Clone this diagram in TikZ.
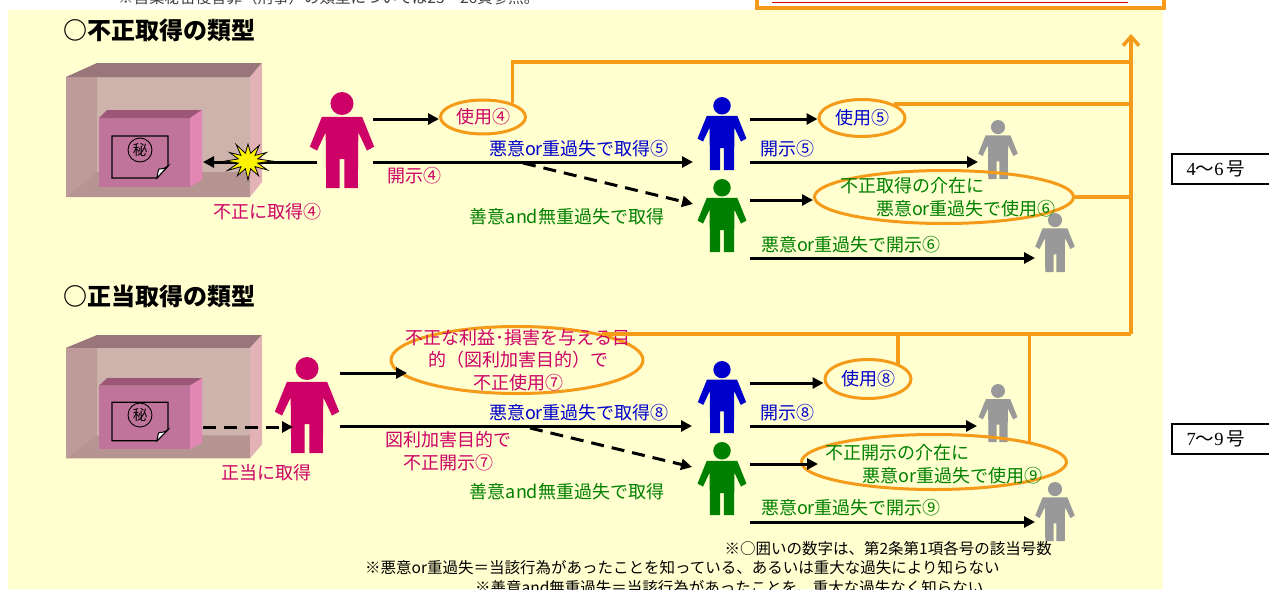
\documentclass[tikz,border=0pt]{standalone}
\usepackage{fontspec}
\setmainfont{Noto Sans CJK JP}
\newfontfamily\numserif{Liberation Serif}
\usetikzlibrary{shapes.geometric,arrows.meta}

\definecolor{bgyellow}{RGB}{255,255,208}
\definecolor{mag}{HTML}{CC0066}
\definecolor{blu}{HTML}{0000CC}
\definecolor{grn}{HTML}{008000}
\definecolor{gry}{HTML}{999999}
\definecolor{org}{RGB}{245,155,25}
\definecolor{boxtop}{RGB}{152,118,122}
\definecolor{boxback}{RGB}{206,178,172}
\definecolor{boxwall}{RGB}{190,155,152}
\definecolor{boxfloor}{RGB}{182,148,146}
\definecolor{boxside}{RGB}{226,178,182}
\definecolor{innerfront}{RGB}{192,116,156}
\definecolor{innertop}{RGB}{158,86,120}
\definecolor{innerside}{RGB}{226,134,180}

\newcommand\labfont{\fontsize{18}{22.5}\selectfont}
\newcommand\notefont{\fontsize{15.5}{19}\selectfont}
\newcommand\titlefont{\fontsize{24}{28}\selectfont\bfseries}

% standing figure: x centre, feet y, height, colour
\newcommand\drawperson[4]{%
  \begin{scope}[shift={(#1,#2)}, x=#3pt, y=#3pt]
    \fill[#4] (0,0.88) circle (0.12);
    \fill[#4] (-0.21,0.74) -- (0.21,0.74) -- (0.335,0.43) -- (0.26,0.39)
      -- (0.17,0.58) -- (0.165,0) -- (0.025,0) -- (0.025,0.30)
      -- (-0.025,0.30) -- (-0.025,0) -- (-0.165,0) -- (-0.17,0.58)
      -- (-0.26,0.39) -- (-0.335,0.43) -- cycle;
  \end{scope}}

% open case holding the secret box: top y, vertical scale, name of the seal
\newcommand\drawsafe[3]{%
  \begin{scope}[shift={(0,#1)}, yscale=#2]
    \fill[boxback] (66,14) rectangle (250,134);
    \fill[boxwall] (66,14) -- (97,14) -- (97,109) -- (66,134) -- cycle;
    \fill[boxfloor] (66,134) -- (97,109) -- (250,109) -- (250,134) -- cycle;
    \fill[boxtop] (66,14) -- (97,0) -- (262,0) -- (250,14) -- cycle;
    \fill[boxside] (250,14) -- (262,0) -- (262,119) -- (250,134) -- cycle;
    \fill[innerfront] (99,55) rectangle (190,124);
    \fill[innertop] (99,55) -- (107,47) -- (202,47) -- (190,55) -- cycle;
    \fill[innerside] (190,55) -- (202,47) -- (202,117) -- (190,124) -- cycle;
    \draw[line width=1.2pt, fill=innerfront] (112,73) -- (168,73) -- (168,103)
      -- (157,115) -- (112,115) -- cycle;
    \filldraw[line width=1pt, fill=white] (157,115) .. controls (158,108) .. (159,106)
      .. controls (163,106) .. (168,103) -- cycle;
    \node[circle, draw, line width=0.9pt, inner sep=0pt, minimum size=24pt,
      font=\fontsize{14.5}{14.5}\selectfont] (#3) at (140,87) {秘};
  \end{scope}}

\begin{document}
\begin{tikzpicture}[x=1pt, y=-1pt,
  arrowline/.style={line width=3pt, -{Triangle[length=11pt,width=11pt]}},
  dashline/.style={arrowline, dash pattern=on 13pt off 8pt},
  oval/.style={ellipse, draw=org, line width=3pt, inner sep=0pt},
  busline/.style={draw=org, line width=3.5pt},
  lab/.style={font=\labfont, inner sep=0pt},
  note/.style={font=\notefont, inner sep=0pt}]

\useasboundingbox (0,0) rectangle (1269,589);
\fill[white] (0,0) rectangle (1269,589);
\fill[bgyellow] (8,10) rectangle (1163,589);

% header strip
\node[note, text=black!75, anchor=west] (refnote) at (118,-2)
  {※営業秘密侵害罪（刑事）の類型については25～26頁参照。};
\draw[org, line width=3.5pt, fill=white] (757,-30) rectangle (1164,8);
\draw[red!85!black, line width=1pt] (772,2.5) -- (1128,2.5);

% section titles
\node[font=\titlefont, anchor=west, inner sep=0pt] (title1) at (63,30) {○不正取得の類型};
\node[font=\titlefont, anchor=west, inner sep=0pt] (title2) at (63,296) {○正当取得の類型};

% cases
\drawsafe{63}{1}{seal1}
\drawsafe{335}{0.92}{seal2}

% figures
\drawperson{342}{188}{96}{mag}
\drawperson{722}{170}{73}{blu}
\drawperson{722}{252}{73}{grn}
\drawperson{998}{179}{59}{gry}
\drawperson{1055}{272}{59}{gry}
\drawperson{307}{453}{96}{mag}
\drawperson{722}{433}{72}{blu}
\drawperson{722}{515}{73}{grn}
\drawperson{998}{442}{58}{gry}
\drawperson{1055}{541}{59}{gry}

% ovals
\node[oval, minimum width=85pt, minimum height=34pt] (u4) at (483,117) {};
\node[oval, minimum width=86pt, minimum height=37pt] (u5) at (862,118) {};
\node[oval, minimum width=259pt, minimum height=53pt] (u6) at (944,197) {};
\node[oval, minimum width=252pt, minimum height=67pt] (u7) at (517,360) {};
\node[oval, minimum width=86pt, minimum height=39pt] (u8) at (868,379) {};
\node[oval, minimum width=265pt, minimum height=55pt] (u9) at (934,462) {};

\node[lab, text=mag] (u4t) at (u4) {使用④};
\node[lab, text=blu] (u5t) at (u5) {使用⑤};
\node[lab, text=grn, align=left] (u6t) at (948,197) {不正取得の介在に\\\hspace*{2em}悪意or重過失で使用⑥};
\node[lab, text=mag, align=center] (u7t) at (518,360) {不正な利益･損害を与える目\\的（図利加害目的）で\\不正使用⑦};
\node[lab, text=blu] (u8t) at (u8) {使用⑧};
\node[lab, text=grn, align=left] (u9t) at (934,464) {不正開示の介在に\\\hspace*{2.1em}悪意or重過失で使用⑨};

% arrow end points at the figures and cases
\coordinate (m1a) at (373,119);
\coordinate (m1b) at (373,162);
\coordinate (m1c) at (317,162);
\coordinate (case1in) at (203,162);
\coordinate (fork1) at (523,163);
\coordinate (b1in) at (693,162);
\coordinate (g1in) at (693,204);
\coordinate (b1a) at (750,119);
\coordinate (b1b) at (750,162);
\coordinate (x1in) at (978,162);
\coordinate (g1a) at (750,200);
\coordinate (g1b) at (750,258);
\coordinate (x2in) at (1035,258);
\coordinate (case2out) at (203,427);
\coordinate (m2in) at (293,427);
\coordinate (m2a) at (340,373);
\coordinate (u7in) at (407,373);
\coordinate (m2b) at (340,426);
\coordinate (fork2) at (530,428);
\coordinate (b2in) at (692,426);
\coordinate (g2in) at (692,467);
\coordinate (b2a) at (750,383);
\coordinate (b2b) at (750,426);
\coordinate (x3in) at (977,426);
\coordinate (g2a) at (750,464);
\coordinate (u9in) at (818,464);
\coordinate (g2b) at (750,522);
\coordinate (x4in) at (1035,522);

% black arrows
\draw[arrowline] (m1a) -- (m1a -| u4.west);
\draw[arrowline] (m1b) -- (b1in);
\draw[dashline] (fork1) -- (g1in);
\draw[arrowline] (m1c) -- (case1in);
\draw[arrowline] (b1a) -- (b1a -| u5.west);
\draw[arrowline] (b1b) -- (x1in);
\draw[arrowline] (g1a) -- (g1a -| u6.west);
\draw[arrowline] (g1b) -- (x2in);
\draw[dashline] (case2out) -- (m2in);
\draw[arrowline] (m2a) -- (u7in);
\draw[arrowline] (m2b) -- (b2in);
\draw[dashline] (fork2) -- (g2in);
\draw[arrowline] (b2a) -- (b2a -| u8.west);
\draw[arrowline] (b2b) -- (x3in);
\draw[arrowline] (g2a) -- (u9in);
\draw[arrowline] (g2b) -- (x4in);

% break-in burst
\filldraw[fill=yellow, draw=black, line width=0.8pt, shift={(248,161)}, xscale=1.25]
  (0:19) \foreach \a/\r in {15/8,30/18,45/8,60/17,75/8,90/19,105/8,120/17,135/8,150/19,
    165/8,180/18,195/8,210/17,225/8,240/19,255/8,270/17,285/8,300/18,315/8,330/17,345/8}
  { -- (\a:\r) } -- cycle;

% orange collector
\coordinate (j1) at (1131,62);
\coordinate (j2) at (1131,102);
\coordinate (j4) at (1131,334);
\coordinate (jtop) at (1131,34);
\draw[busline, -{Straight Barb[length=9pt,width=16pt]}] (j4) -- (jtop);
\draw[busline] (u4.25) |- (j1);
\draw[busline] (u5.24) -- (u5.24 -| j2);
\draw[busline] (u6.east) -- (u6.east -| j2);
\draw[busline] (u7.17) -- (u7.17 -| j4);
\draw[busline] (u8.27) -- (u8.27 |- j4);
\draw[busline] (u9.12) -- (u9.12 |- j4);

% labels
\node[lab, text=mag] (l1) at (267,212) {不正に取得④};
\node[lab, text=mag] (l2) at (414,176) {開示④};
\node[lab, text=blu] (l3) at (579,149) {悪意or重過失で取得⑤};
\node[lab, text=grn] (l4) at (567,217) {善意and無重過失で取得};
\node[lab, text=blu] (l5) at (787,149) {開示⑤};
\node[lab, text=grn] (l6) at (851,245) {悪意or重過失で開示⑥};
\node[lab, text=mag] (l7) at (266,473) {正当に取得};
\node[lab, text=blu] (l8) at (579,413) {悪意or重過失で取得⑧};
\node[lab, text=mag, align=center] (l9) at (448,451) {図利加害目的で\\不正開示⑦};
\node[lab, text=grn] (l10) at (567,492) {善意and無重過失で取得};
\node[lab, text=blu] (l11) at (787,413) {開示⑧};
\node[lab, text=grn] (l12) at (851,508) {悪意or重過失で開示⑨};

% footnotes
\node[note, anchor=east] (f1) at (1052,549) {※○囲いの数字は、第2条第1項各号の該当号数};
\node[note, anchor=west] (f2) at (365,568) {※悪意or重過失＝当該行為があったことを知っている、あるいは重大な過失により知らない};
\node[note, anchor=west] (f3) at (475,588) {※善意and無重過失＝当該行為があったことを、重大な過失なく知らない};

% clause tags on the right
\draw[line width=1.3pt] (1172,154) rectangle (1290,184);
\node[font=\fontsize{18.5}{18.5}\selectfont, inner sep=0pt] (tag1) at (1216,169) {{\numserif 4}～{\numserif 6}\,号};
\draw[line width=1.3pt] (1172,424) rectangle (1290,454);
\node[font=\fontsize{18.5}{18.5}\selectfont, inner sep=0pt] (tag2) at (1216,439) {{\numserif 7}～{\numserif 9}\,号};

\end{tikzpicture}
\end{document}
